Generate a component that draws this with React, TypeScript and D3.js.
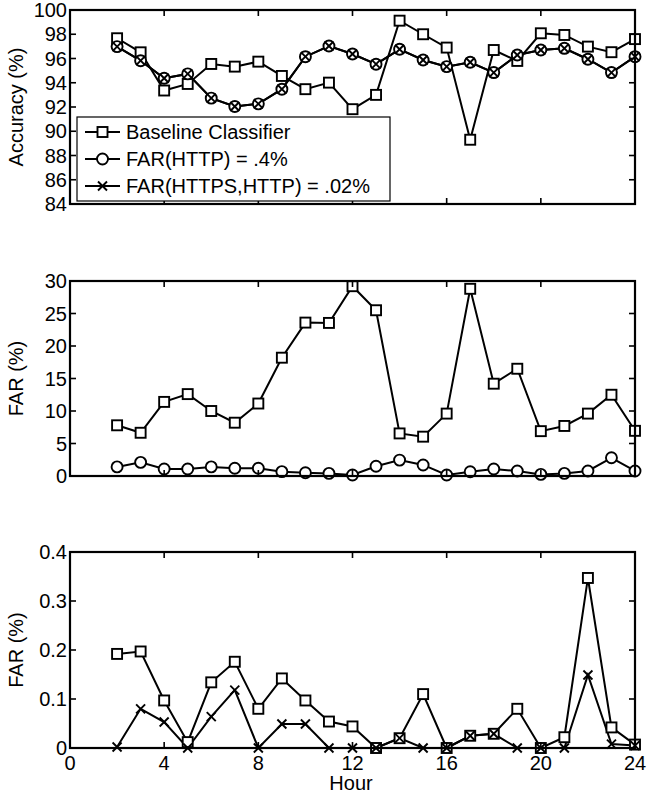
import React from "react";
import * as d3 from "d3";

const hours = [2, 3, 4, 5, 6, 7, 8, 9, 10, 11, 12, 13, 14, 15, 16, 17, 18, 19, 20, 21, 22, 23, 24];

// Panel 1: accuracy (%)
const accBaseline = [97.67, 96.51, 93.36, 93.9, 95.55, 95.33, 95.74, 94.56, 93.47, 94.01, 91.82, 93.0, 99.12, 98.0, 96.9, 89.3, 96.7, 95.8, 98.08, 97.94, 96.98, 96.52, 97.6];
const accHttp = [96.98, 95.82, 94.37, 94.73, 92.73, 92.04, 92.26, 93.47, 96.15, 97.03, 96.37, 95.53, 96.76, 95.88, 95.33, 95.69, 94.84, 96.29, 96.7, 96.84, 95.94, 94.84, 96.15];
const accHttps = [96.98, 95.82, 94.37, 94.73, 92.73, 92.04, 92.26, 93.47, 96.15, 97.03, 96.37, 95.53, 96.76, 95.88, 95.33, 95.69, 94.84, 96.29, 96.7, 96.84, 95.94, 94.84, 96.15];

// Panel 2: FAR (%)
const farBaseline = [7.8, 6.65, 11.4, 12.6, 10.0, 8.2, 11.15, 18.2, 23.6, 23.55, 29.2, 25.5, 6.55, 6.05, 9.6, 28.8, 14.2, 16.5, 6.9, 7.7, 9.6, 12.5, 6.95];
const farHttp = [1.4, 2.1, 1.07, 1.07, 1.4, 1.2, 1.2, 0.67, 0.5, 0.4, 0.15, 1.5, 2.45, 1.7, 0.15, 0.65, 1.07, 0.77, 0.25, 0.4, 0.77, 2.8, 0.77];

// Panel 3: FAR (%)
const far3Baseline = [0.192, 0.197, 0.097, 0.012, 0.134, 0.176, 0.08, 0.142, 0.097, 0.054, 0.044, 0.0, 0.02, 0.11, 0.0, 0.025, 0.029, 0.08, 0.0, 0.022, 0.347, 0.042, 0.007];
const far3Https = [0.002, 0.08, 0.053, 0.0, 0.064, 0.118, 0.0, 0.049, 0.049, 0.0, 0.0, 0.0, 0.02, 0.0, 0.0, 0.025, 0.029, 0.0, 0.0, 0.0, 0.149, 0.008, 0.005];

const xTicks = [0, 4, 8, 12, 16, 20, 24];
const accTicks = [84, 86, 88, 90, 92, 94, 96, 98, 100];
const farTicks = [0, 5, 10, 15, 20, 25, 30];
const far3Ticks = [0, 0.1, 0.2, 0.3, 0.4];
const legendLabels = ["Baseline Classifier", "FAR(HTTP) = .4%", "FAR(HTTPS,HTTP) = .02%"];

const FONT = "'Liberation Sans', Arial, Helvetica, sans-serif";
const FS = 20;
const LEFT = 70;
const RIGHT = 635;

type Marker = "square" | "circle" | "x";

function MarkerShape({ type, x, y }: { type: Marker; x: number; y: number }) {
  if (type === "square") {
    return <rect x={x - 5} y={y - 5} width={10} height={10} fill="white" stroke="black" strokeWidth={1.9} />;
  }
  if (type === "circle") {
    return <circle cx={x} cy={y} r={5.5} fill="white" stroke="black" strokeWidth={1.9} />;
  }
  return (
    <g stroke="black" strokeWidth={1.9}>
      <line x1={x - 4.5} y1={y - 4.5} x2={x + 4.5} y2={y + 4.5} />
      <line x1={x - 4.5} y1={y + 4.5} x2={x + 4.5} y2={y - 4.5} />
    </g>
  );
}

type Series = { values: number[]; marker: Marker };

function Panel({
  top,
  bottom,
  domain,
  yTicks,
  fmt,
  series,
  ylabel,
  showXLabels,
}: {
  top: number;
  bottom: number;
  domain: [number, number];
  yTicks: number[];
  fmt: (v: number) => string;
  series: Series[];
  ylabel: string;
  showXLabels: boolean;
}) {
  const x = d3.scaleLinear().domain([0, 24]).range([LEFT, RIGHT]);
  const y = d3.scaleLinear().domain(domain).range([bottom, top]);
  const line = d3
    .line<[number, number]>()
    .x((d) => x(d[0]))
    .y((d) => y(d[1]));
  const tl = 6;
  return (
    <g>
      {series.map((s, i) => (
        <path
          key={"l" + i}
          d={line(hours.map((h, j) => [h, s.values[j]] as [number, number])) || ""}
          fill="none"
          stroke="black"
          strokeWidth={2}
        />
      ))}
      {series.map((s, i) => (
        <g key={"m" + i}>
          {hours.map((h, j) => (
            <MarkerShape key={j} type={s.marker} x={x(h)} y={y(s.values[j])} />
          ))}
        </g>
      ))}
      <rect x={LEFT} y={top} width={RIGHT - LEFT} height={bottom - top} fill="none" stroke="black" strokeWidth={2.2} />
      {xTicks.map((t) => (
        <g key={"xt" + t}>
          <line x1={x(t)} x2={x(t)} y1={bottom} y2={bottom - tl} stroke="black" strokeWidth={1.6} />
          <line x1={x(t)} x2={x(t)} y1={top} y2={top + tl} stroke="black" strokeWidth={1.6} />
          {showXLabels && (
            <text x={x(t)} y={bottom + 22} textAnchor="middle" fontFamily={FONT} fontSize={FS}>
              {t}
            </text>
          )}
        </g>
      ))}
      {yTicks.map((t) => (
        <g key={"yt" + t}>
          <line x1={LEFT} x2={LEFT + tl} y1={y(t)} y2={y(t)} stroke="black" strokeWidth={1.6} />
          <line x1={RIGHT} x2={RIGHT - tl} y1={y(t)} y2={y(t)} stroke="black" strokeWidth={1.6} />
          <text x={LEFT - 3} y={y(t)} dy="0.36em" textAnchor="end" fontFamily={FONT} fontSize={FS}>
            {fmt(t)}
          </text>
        </g>
      ))}
      <text
        transform={`translate(16,${(top + bottom) / 2}) rotate(-90)`}
        textAnchor="middle"
        dy="0.35em"
        fontFamily={FONT}
        fontSize={FS}
      >
        {ylabel}
      </text>
    </g>
  );
}

function Legend() {
  const lx = 77;
  const ly = 117;
  const w = 313;
  const h = 84;
  const markers: Marker[] = ["square", "circle", "x"];
  const rows = [132, 159, 186];
  return (
    <g>
      <rect x={lx} y={ly} width={w} height={h} fill="white" stroke="black" strokeWidth={1.2} />
      {legendLabels.map((lab, i) => (
        <g key={i}>
          <line x1={85} x2={120} y1={rows[i]} y2={rows[i]} stroke="black" strokeWidth={2} />
          <MarkerShape type={markers[i]} x={102.5} y={rows[i]} />
          <text x={126} y={rows[i]} dy="0.36em" fontFamily={FONT} fontSize={FS}>
            {lab}
          </text>
        </g>
      ))}
    </g>
  );
}

export default function App() {
  return (
    <svg
      width={647}
      height={802}
      style={{ position: "absolute", left: 0, top: 0, background: "white" }}
    >
      <rect width={647} height={802} fill="white" />
      <Panel
        top={10}
        bottom={204}
        domain={[84, 100]}
        yTicks={accTicks}
        fmt={(v) => String(v)}
        series={[
          { values: accBaseline, marker: "square" },
          { values: accHttp, marker: "circle" },
          { values: accHttps, marker: "x" },
        ]}
        ylabel="Accuracy (%)"
        showXLabels={false}
      />
      <Legend />
      <Panel
        top={281}
        bottom={476}
        domain={[0, 30]}
        yTicks={farTicks}
        fmt={(v) => String(v)}
        series={[
          { values: farBaseline, marker: "square" },
          { values: farHttp, marker: "circle" },
        ]}
        ylabel="FAR (%)"
        showXLabels={false}
      />
      <Panel
        top={552}
        bottom={748}
        domain={[0, 0.4]}
        yTicks={far3Ticks}
        fmt={(v) => (v === 0 ? "0" : String(v))}
        series={[
          { values: far3Baseline, marker: "square" },
          { values: far3Https, marker: "x" },
        ]}
        ylabel="FAR (%)"
        showXLabels={true}
      />
      <text x={351} y={790} textAnchor="middle" fontFamily={FONT} fontSize={FS}>
        Hour
      </text>
    </svg>
  );
}
